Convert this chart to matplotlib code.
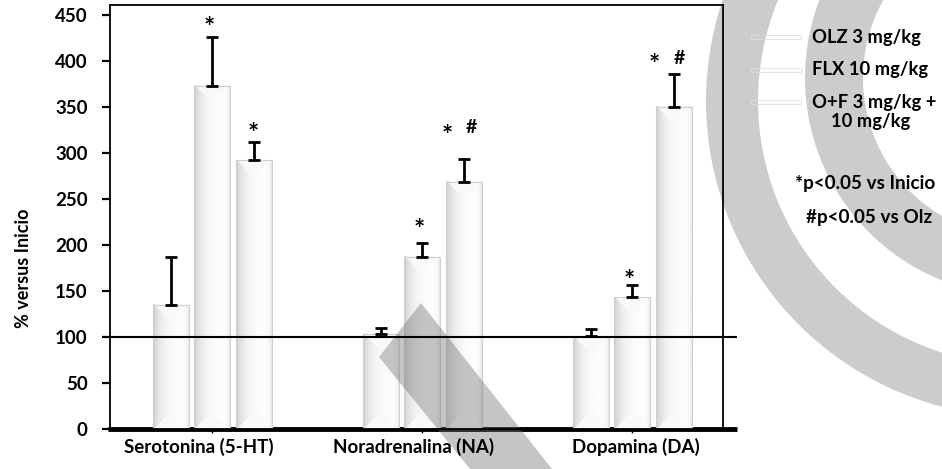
import numpy as np
import matplotlib
matplotlib.use("Agg")
import matplotlib.pyplot as plt
from matplotlib.patches import Polygon, Annulus, Rectangle
from matplotlib.transforms import Affine2D

plt.rcParams['font.family'] = ['Lato', 'DejaVu Sans']
plt.rcParams['font.weight'] = 'bold'

# data
groups = ["Serotonina (5-HT)", "Noradrenalina (NA)", "Dopamina (DA)"]
series = ["OLZ 3 mg/kg", "FLX 10 mg/kg", "O+F 3 mg/kg +\n10 mg/kg"]
olz = [135, 103, 101]
flx = [373, 187, 143]
oxf = [292, 269, 350]
olz_err = [52, 7, 8]
flx_err = [53, 15, 13]
oxf_err = [20, 24, 36]
# significance marks: (group, series, text, dx in px, y value)
marks = [(0, 1, "*", -3, 436), (0, 2, "*", 0, 321),
         (1, 1, "*", -3, 216), (1, 2, "*", -16, 319), (1, 2, "#", 8, 328),
         (2, 1, "*", -3, 161), (2, 2, "*", -19, 396), (2, 2, "#", 6, 403)]
notes = ["*p<0.05 vs Inicio", "#p<0.05 vs Olz"]

W, H = 942, 469
fig = plt.figure(figsize=(W / 100, H / 100), dpi=100)
ax = fig.add_axes([110 / W, 1 - 429 / H, (723 - 110) / W, (429 - 5) / H])
pix = Affine2D().scale(1 / W, -1 / H).translate(0, 1) + fig.transFigure

ymax = 424 / 0.92
xl, xr = -102 / 210, 511 / 210

# watermark shapes
ax.add_patch(Annulus((1022, 101), 316, 52, transform=pix, color='#cccccc',
                     clip_on=False, zorder=0.1, lw=0))
ax.add_patch(Annulus((1023, 78), 218, 58, transform=pix, color='#cccccc',
                     clip_on=False, zorder=0.1, lw=0))
ax.add_patch(Polygon([(379, 357), (421, 303), (552, 469), (470, 469)], closed=True,
                     transform=pix, facecolor='#707070', alpha=0.4, lw=0,
                     clip_on=False, zorder=1.5))

bw = 36 / 210
off = 41.5 / 210
vals = [olz, flx, oxf]
errs = [olz_err, flx_err, oxf_err]


def bar_image(hpx, wpx=36):
    xx = (np.arange(wpx) + 0.5)
    t = xx / wpx
    base = 1 - 0.2 * np.exp(-t / 0.25) - 0.1 * np.exp(-(1 - t) / 0.06)
    img = np.tile(base, (hpx, 1))
    d = np.arange(hpx)[:, None] + 0.5
    side = np.minimum(xx, wpx - xx)[None, :]
    cap = (d < side) | ((hpx - d) < side)
    img = np.where(cap, np.minimum(img + 0.08, 0.975), img)
    return img


for s in range(3):
    for g in range(3):
        x = g + (s - 1) * off
        v = vals[s][g]
        hpx = max(int(v * 0.92), 2)
        ax.imshow(bar_image(hpx), cmap='gray', vmin=0, vmax=1, aspect='auto',
                  extent=[x - bw / 2, x + bw / 2, 0, v], interpolation='bilinear',
                  zorder=1)
        ax.add_patch(Rectangle((x - bw / 2, 0), bw, v, fill=False,
                               edgecolor='#cfcfcf', lw=0.8, zorder=1.2))
    xs = np.arange(3) + (s - 1) * off
    ax.errorbar(xs, vals[s], yerr=[np.zeros(3), errs[s]], fmt='none',
                ecolor='black', elinewidth=2, capsize=4.5, capthick=2, zorder=3)

ax.set_xlim(xl, xr)
ax.set_ylim(0, ymax)

ax.plot([xl - 0.01, 2.5], [0, 0], color='black', lw=3.5, zorder=0.9,
        clip_on=False, solid_capstyle='butt')
ax.plot([xl, 2.495], [100, 100], color='black', lw=1.5, zorder=3, clip_on=False)

for g, s, txt, dx, y in marks:
    x = g + (s - 1) * off + dx / 210
    ax.text(x, y, txt, ha='center', va='center', fontweight='bold',
            fontsize=19 if txt == "*" else 14)

ax.set_yticks(np.arange(0, 451, 50))
ax.set_xticks(range(3))
ax.set_xticklabels([""] * 3)
# group names sit a little off their ticks in the original
label_dx = [-13, -8, 4]
for g, name in enumerate(groups):
    ax.text(g + label_dx[g] / 210, -17.5 / 0.92, name, ha='center', va='center',
            fontsize=13.5, fontweight='bold', zorder=4, clip_on=False)
ax.tick_params(axis='y', length=6, width=1.6, pad=10, labelsize=13.5)
ax.tick_params(axis='x', length=3, width=1, pad=5)
ax.set_ylabel("% versus Inicio", fontsize=13, fontweight='bold')
ax.yaxis.set_label_coords(-0.128, 0.38)
for sp in ax.spines.values():
    sp.set_linewidth(1.3)

# legend keys (almost invisible in the original) and texts
leg_y = [37, 70, 102]
for i, y in enumerate(leg_y):
    ax.add_patch(Rectangle((751, y - 2), 50, 4, transform=pix, facecolor='none',
                           edgecolor='#dedede', lw=0.6, clip_on=False, zorder=4))
fs = 13.2
fig.text(812 / W, 1 - 37 / H, series[0], ha='left', va='center', fontsize=fs,
         fontweight='bold')
fig.text(812 / W, 1 - 70 / H, series[1], ha='left', va='center', fontsize=fs,
         fontweight='bold')
l1, l2 = series[2].split("\n")
fig.text(812 / W, 1 - 102 / H, l1, ha='left', va='center', fontsize=fs,
         fontweight='bold')
fig.text(871 / W, 1 - 122 / H, l2, ha='center', va='center', fontsize=fs,
         fontweight='bold')
fig.text(865 / W, 1 - 184 / H, notes[0], ha='center', va='center', fontsize=13.6,
         fontweight='bold')
fig.text(869 / W, 1 - 218 / H, notes[1], ha='center', va='center', fontsize=13.6,
         fontweight='bold')

fig.savefig("out.png", dpi=100)
